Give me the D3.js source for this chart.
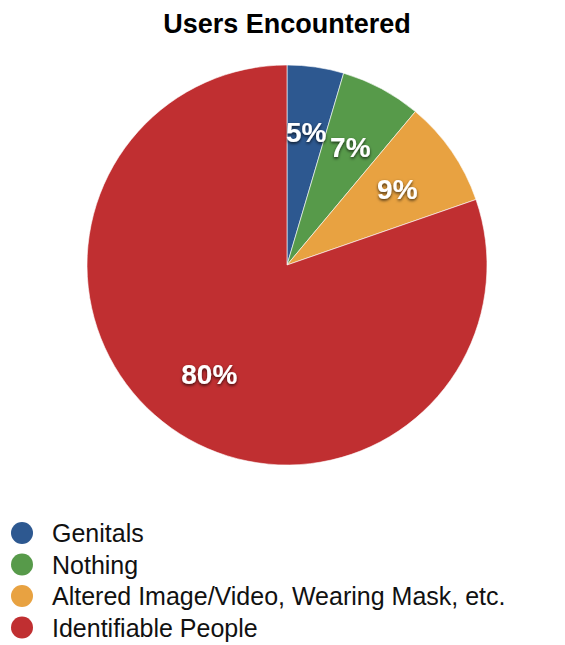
<!DOCTYPE html>
<html>
<head>
<meta charset="utf-8">
<script src="https://cdn.jsdelivr.net/npm/d3@7"></script>
<style>
  body { margin: 0; background: #fff; }
  svg { display: block; font-family: "Liberation Sans", Arial, sans-serif; }
</style>
</head>
<body>
<div id="chart"></div>
<script>
const categories = ["Genitals", "Nothing", "Altered Image/Video, Wearing Mask, etc.", "Identifiable People"];
const values = [4.57, 6.52, 8.6, 80.31];
const colors = ["#2d5890", "#579a4a", "#e8a241", "#c02f31"];

const width = 565, height = 645;
const cx = 287, cy = 265, radius = 200;

const svg = d3.select("#chart").append("svg")
    .attr("width", width)
    .attr("height", height);

// soft shadow for the percentage labels
const defs = svg.append("defs");
const f = defs.append("filter").attr("id", "shadow")
    .attr("x", "-30%").attr("y", "-30%").attr("width", "160%").attr("height", "160%");
f.append("feDropShadow")
    .attr("dx", 0).attr("dy", 1.5)
    .attr("stdDeviation", 1.8)
    .attr("flood-color", "#000")
    .attr("flood-opacity", 0.75);

svg.append("text")
    .attr("x", cx)
    .attr("y", 33)
    .attr("text-anchor", "middle")
    .attr("font-size", 27)
    .attr("font-weight", "bold")
    .attr("fill", "#000")
    .text("Users Encountered");

const pie = d3.pie().sort(null).value(d => d)(values);
const arc = d3.arc().innerRadius(0).outerRadius(radius);
const labelArc = d3.arc().innerRadius(radius * 0.67).outerRadius(radius * 0.67);
const total = d3.sum(values);

const g = svg.append("g").attr("transform", `translate(${cx},${cy})`);

g.selectAll("path")
    .data(pie)
    .join("path")
    .attr("d", arc)
    .attr("fill", (d, i) => colors[i])
    .attr("stroke", "#fff")
    .attr("stroke-width", 0.6);

g.selectAll("text.pct")
    .data(pie)
    .join("text")
    .attr("class", "pct")
    .attr("transform", d => `translate(${labelArc.centroid(d)})`)
    .attr("text-anchor", "middle")
    .attr("dy", "0.36em")
    .attr("font-size", 28)
    .attr("font-weight", "bold")
    .attr("fill", "#fff")
    .attr("filter", "url(#shadow)")
    .text(d => Math.round(d.value / total * 100) + "%");

const leg = svg.append("g").attr("transform", "translate(22,533)");
const row = leg.selectAll("g")
    .data(categories)
    .join("g")
    .attr("transform", (d, i) => `translate(0,${i * 31.5})`);
row.append("circle")
    .attr("r", 11)
    .attr("fill", (d, i) => colors[i]);
row.append("text")
    .attr("x", 30)
    .attr("dy", "0.36em")
    .attr("font-size", 25)
    .attr("fill", "#111")
    .text(d => d);
</script>
</body>
</html>
